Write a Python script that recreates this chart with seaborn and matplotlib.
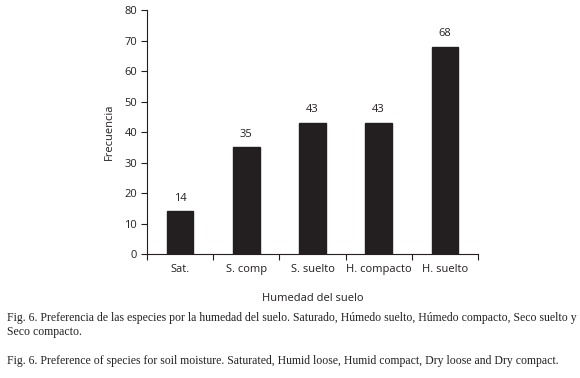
import matplotlib
matplotlib.use("Agg")
import matplotlib.pyplot as plt
import seaborn as sns
import pandas as pd
import numpy as np

categorias = ["Sat.", "S. comp", "S. suelto", "H. compacto", "H. suelto"]
frecuencia = [14, 35, 43, 43, 68]
yticks = [0, 10, 20, 30, 40, 50, 60, 70, 80]

df = pd.DataFrame({"cat": categorias, "freq": frecuencia})

sns.set_style("white")
plt.rcParams['font.family'] = ['Open Sans', 'DejaVu Sans']

fig = plt.figure(figsize=(5.8, 3.78), dpi=100)
ax = fig.add_axes([0.2534, 0.328, 0.5707, 0.6455])

sns.barplot(data=df, x="cat", y="freq", order=categorias, color="#231f20",
            saturation=1, width=0.4, edgecolor="#231f20", ax=ax)

for i, v in enumerate(frecuencia):
    ax.text(i, v + 2.5, str(v), ha="center", va="bottom", fontsize=8, color="#231f20")

ax.set_xlim(-0.5, len(categorias) - 0.5)
ax.set_ylim(0, 80)
ax.set_yticks(yticks)
ax.set_xticks(np.arange(-0.5, len(categorias), 1.0), minor=True)
ax.tick_params(axis="x", which="major", length=0, pad=7, labelsize=8, colors="#231f20")
ax.tick_params(axis="x", which="minor", length=4, width=0.8, direction="out", color="#231f20")
ax.tick_params(axis="y", length=4, width=0.8, direction="out", labelsize=8, colors="#231f20", pad=3)
ax.xaxis.set_ticks_position("bottom")
ax.yaxis.set_ticks_position("left")
sns.despine(ax=ax)
for s in ["left", "bottom"]:
    ax.spines[s].set_color("#231f20")
    ax.spines[s].set_linewidth(0.8)

ax.set_xlabel("Humedad del suelo", fontsize=8, color="#231f20", labelpad=13)
ax.set_ylabel("Frecuencia", fontsize=8, color="#231f20", labelpad=7)

serif = ["Liberation Serif", "DejaVu Serif"]
fig.text(0.012, 1 - 318 / 378,
         "Fig. 6. Preferencia de las especies por la humedad del suelo. Saturado, Húmedo suelto, Húmedo compacto, Seco suelto y",
         family=serif, fontsize=8.5, va="center", color="#222222")
fig.text(0.012, 1 - 332 / 378, "Seco compacto.", family=serif, fontsize=8.5, va="center", color="#222222")
fig.text(0.012, 1 - 361 / 378,
         "Fig. 6. Preference of species for soil moisture. Saturated, Humid loose, Humid compact, Dry loose and Dry compact.",
         family=serif, fontsize=8.5, va="center", color="#222222")

fig.savefig("out.png", dpi=100)
